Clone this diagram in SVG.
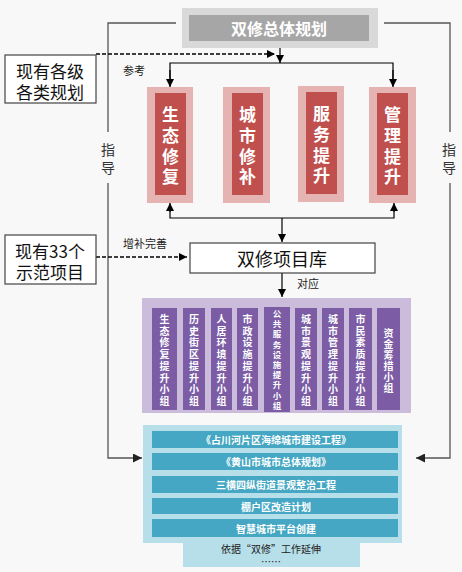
<svg xmlns="http://www.w3.org/2000/svg" width="462" height="572" viewBox="0 0 462 572">
<defs>
<marker id="ah" viewBox="0 0 10 10" refX="10" refY="5" markerWidth="8" markerHeight="8" markerUnits="userSpaceOnUse" orient="auto">
<path d="M0,0 L10,5 L0,10 z" fill="#000"/>
</marker>
<marker id="ahg" viewBox="0 0 10 10" refX="10" refY="5" markerWidth="9" markerHeight="9" markerUnits="userSpaceOnUse" orient="auto">
<path d="M0,0 L10,5 L0,10 z" fill="#222"/>
</marker>
</defs>
<style>
text{font-family:"Noto Sans CJK SC","Liberation Sans",sans-serif;text-anchor:middle;dominant-baseline:central}
.ln{fill:none;stroke:#000;stroke-width:1.2}
.gl{fill:none;stroke:#555;stroke-width:1.3}
.dash{fill:none;stroke:#000;stroke-width:1.3;stroke-dasharray:4,2}
.box{fill:#fff;stroke:#444;stroke-width:1.2}
.redo{fill:#e6b3b3}
.redi{fill:#c0504d}
.rt{fill:#fff;font-size:17px;font-weight:bold}
.pur{fill:#7b5ca5}
.pt{fill:#fff;font-size:10px;font-weight:bold}
.pt9{fill:#fff;font-size:8.5px;font-weight:bold}
.row{fill:#45a7c3}
.bt{fill:#fff;font-size:10px;font-weight:bold}
.sm{fill:#222;font-size:11px}
</style>
<rect width="462" height="572" fill="#f8f8f8"/>

<g id="connectors">
<polyline class="gl" points="176,23 108,23 108,132"/>
<polyline class="gl" points="108,183 108,458 142,458" marker-end="url(#ahg)"/>
<polyline class="gl" points="384,23 450,23 450,132"/>
<polyline class="gl" points="450,183 450,458 416,458" marker-end="url(#ahg)"/>
<line class="ln" x1="280" y1="48" x2="280" y2="63" marker-end="url(#ah)"/>
<polyline class="ln" points="170,86 170,63 393,63 393,86"/>
<line class="ln" x1="170" y1="70" x2="170" y2="87" marker-end="url(#ah)"/>
<line class="ln" x1="393" y1="70" x2="393" y2="87" marker-end="url(#ah)"/>
<line class="dash" x1="96" y1="54" x2="275" y2="54" marker-end="url(#ah)"/>
<polyline class="ln" points="170,210 170,218 394,218 394,210"/>
<line class="ln" x1="170" y1="212" x2="170" y2="203" marker-end="url(#ah)"/>
<line class="ln" x1="394" y1="212" x2="394" y2="203" marker-end="url(#ah)"/>
<line class="ln" x1="282" y1="218" x2="282" y2="242" marker-end="url(#ah)"/>
<line class="dash" x1="96" y1="257" x2="187" y2="257" marker-end="url(#ah)"/>
<line class="ln" x1="282" y1="273" x2="282" y2="297" marker-end="url(#ah)"/>
<text class="sm" x="134" y="70">参考</text>
<text class="sm" x="145" y="243">增补完善</text>
<text class="sm" x="308" y="283">对应</text>
<text x="108" y="149" style="font-size:14px;fill:#333">指</text>
<text x="108" y="167" style="font-size:14px;fill:#333">导</text>
<text x="449" y="149" style="font-size:14px;fill:#333">指</text>
<text x="449" y="167" style="font-size:14px;fill:#333">导</text>
</g>

<g id="top">
<rect x="182" y="8" width="196" height="40" fill="#d9d9d9"/>
<rect x="189" y="15" width="180" height="26" fill="#a6a6a6"/>
<text x="279" y="28" style="fill:#fff;font-size:16px;font-weight:bold">双修总体规划</text>
</g>

<g id="existing-plans">
<rect class="box" x="5" y="55" width="91" height="48"/>
<text x="50" y="70" style="font-size:17px;fill:#111">现有各级</text>
<text x="50" y="91" style="font-size:17px;fill:#111">各类规划</text>
</g>

<g id="r1">
<rect class="redo" x="147" y="87" width="46" height="116"/>
<rect class="redi" x="155" y="93" width="31" height="102"/>
<text class="rt"><tspan x="170.5" y="113">生</tspan><tspan x="170.5" y="134">态</tspan><tspan x="170.5" y="155">修</tspan><tspan x="170.5" y="175">复</tspan></text>
</g>
<g id="r2">
<rect class="redo" x="223" y="87" width="47" height="116"/>
<rect class="redi" x="232" y="93" width="31" height="102"/>
<text class="rt"><tspan x="247.5" y="113">城</tspan><tspan x="247.5" y="134">市</tspan><tspan x="247.5" y="155">修</tspan><tspan x="247.5" y="175">补</tspan></text>
</g>
<g id="r3">
<rect class="redo" x="298" y="86" width="46" height="116"/>
<rect class="redi" x="306" y="92" width="31" height="102"/>
<text class="rt"><tspan x="321.5" y="112">服</tspan><tspan x="321.5" y="133">务</tspan><tspan x="321.5" y="154">提</tspan><tspan x="321.5" y="174">升</tspan></text>
</g>
<g id="r4">
<rect class="redo" x="369" y="87" width="47" height="116"/>
<rect class="redi" x="377" y="93" width="31" height="102"/>
<text class="rt"><tspan x="392.5" y="113">管</tspan><tspan x="392.5" y="134">理</tspan><tspan x="392.5" y="155">提</tspan><tspan x="392.5" y="175">升</tspan></text>
</g>

<g id="existing-projects">
<rect class="box" x="5" y="235" width="91" height="49"/>
<text x="50" y="250" style="font-size:17px;fill:#111">现有33个</text>
<text x="50" y="271" style="font-size:17px;fill:#111">示范项目</text>
</g>

<g id="library">
<rect class="box" x="190" y="243" width="185" height="30"/>
<text x="282" y="258" style="font-size:18px;fill:#111">双修项目库</text>
</g>

<g id="groups">
<rect x="142" y="298" width="269" height="115" fill="#cbbcdc"/>
<rect class="pur" x="152" y="308" width="25" height="102"/>
<rect class="pur" x="183" y="308" width="22" height="102"/>
<rect class="pur" x="211" y="308" width="21" height="102"/>
<rect class="pur" x="237" y="308" width="21" height="102"/>
<rect class="pur" x="264" y="307" width="26" height="105"/>
<rect class="pur" x="295" y="308" width="22" height="102"/>
<rect class="pur" x="322" y="308" width="22" height="102"/>
<rect class="pur" x="349" y="308" width="23" height="102"/>
<rect class="pur" x="377" y="308" width="23" height="102"/>
<text class="pt"><tspan x="164.5" y="318">生</tspan><tspan x="164.5" y="329.7">态</tspan><tspan x="164.5" y="341.4">修</tspan><tspan x="164.5" y="353.1">复</tspan><tspan x="164.5" y="364.8">提</tspan><tspan x="164.5" y="376.5">升</tspan><tspan x="164.5" y="388.2">小</tspan><tspan x="164.5" y="400">组</tspan></text>
<text class="pt"><tspan x="194" y="318">历</tspan><tspan x="194" y="329.7">史</tspan><tspan x="194" y="341.4">街</tspan><tspan x="194" y="353.1">区</tspan><tspan x="194" y="364.8">提</tspan><tspan x="194" y="376.5">升</tspan><tspan x="194" y="388.2">小</tspan><tspan x="194" y="400">组</tspan></text>
<text class="pt"><tspan x="221.5" y="318">人</tspan><tspan x="221.5" y="329.7">居</tspan><tspan x="221.5" y="341.4">环</tspan><tspan x="221.5" y="353.1">境</tspan><tspan x="221.5" y="364.8">提</tspan><tspan x="221.5" y="376.5">升</tspan><tspan x="221.5" y="388.2">小</tspan><tspan x="221.5" y="400">组</tspan></text>
<text class="pt"><tspan x="247.5" y="318">市</tspan><tspan x="247.5" y="329.7">政</tspan><tspan x="247.5" y="341.4">设</tspan><tspan x="247.5" y="353.1">施</tspan><tspan x="247.5" y="364.8">提</tspan><tspan x="247.5" y="376.5">升</tspan><tspan x="247.5" y="388.2">小</tspan><tspan x="247.5" y="400">组</tspan></text>
<text class="pt9"><tspan x="277" y="313">公</tspan><tspan x="277" y="323.2">共</tspan><tspan x="277" y="333.4">服</tspan><tspan x="277" y="343.6">务</tspan><tspan x="277" y="353.8">设</tspan><tspan x="277" y="364">施</tspan><tspan x="277" y="374.2">提</tspan><tspan x="277" y="384.4">升</tspan><tspan x="277" y="394.6">小</tspan><tspan x="277" y="404.8">组</tspan></text>
<text class="pt"><tspan x="306" y="318">城</tspan><tspan x="306" y="329.7">市</tspan><tspan x="306" y="341.4">景</tspan><tspan x="306" y="353.1">观</tspan><tspan x="306" y="364.8">提</tspan><tspan x="306" y="376.5">升</tspan><tspan x="306" y="388.2">小</tspan><tspan x="306" y="400">组</tspan></text>
<text class="pt"><tspan x="333" y="318">城</tspan><tspan x="333" y="329.7">市</tspan><tspan x="333" y="341.4">管</tspan><tspan x="333" y="353.1">理</tspan><tspan x="333" y="364.8">提</tspan><tspan x="333" y="376.5">升</tspan><tspan x="333" y="388.2">小</tspan><tspan x="333" y="400">组</tspan></text>
<text class="pt"><tspan x="360.5" y="318">市</tspan><tspan x="360.5" y="329.7">民</tspan><tspan x="360.5" y="341.4">素</tspan><tspan x="360.5" y="353.1">质</tspan><tspan x="360.5" y="364.8">提</tspan><tspan x="360.5" y="376.5">升</tspan><tspan x="360.5" y="388.2">小</tspan><tspan x="360.5" y="400">组</tspan></text>
<text class="pt"><tspan x="388.5" y="332">资</tspan><tspan x="388.5" y="343">金</tspan><tspan x="388.5" y="354">筹</tspan><tspan x="388.5" y="365">措</tspan><tspan x="388.5" y="376">小</tspan><tspan x="388.5" y="387">组</tspan></text>
</g>

<g id="projects">
<rect x="143" y="425" width="259" height="118" fill="#b7dfea"/>
<rect x="183" y="543" width="177" height="24" fill="#b7dfea"/>
<rect class="row" x="152" y="431" width="246" height="17"/>
<rect class="row" x="152" y="453" width="246" height="17"/>
<rect class="row" x="152" y="476" width="246" height="17"/>
<rect class="row" x="152" y="498" width="246" height="16"/>
<rect class="row" x="152" y="519" width="246" height="18"/>
<text class="bt" x="276" y="439.5">《占川河片区海绵城市建设工程》</text>
<text class="bt" x="276" y="461.5">《黄山市城市总体规划》</text>
<text class="bt" x="276" y="484.5">三横四纵街道景观整治工程</text>
<text class="bt" x="276" y="506">棚户区改造计划</text>
<text class="bt" x="276" y="528">智慧城市平台创建</text>
<text x="271" y="548" style="font-size:10px;fill:#222">依据“双修”工作延伸</text>
<text x="271" y="561" style="font-size:10px;fill:#222">……</text>
</g>
</svg>
